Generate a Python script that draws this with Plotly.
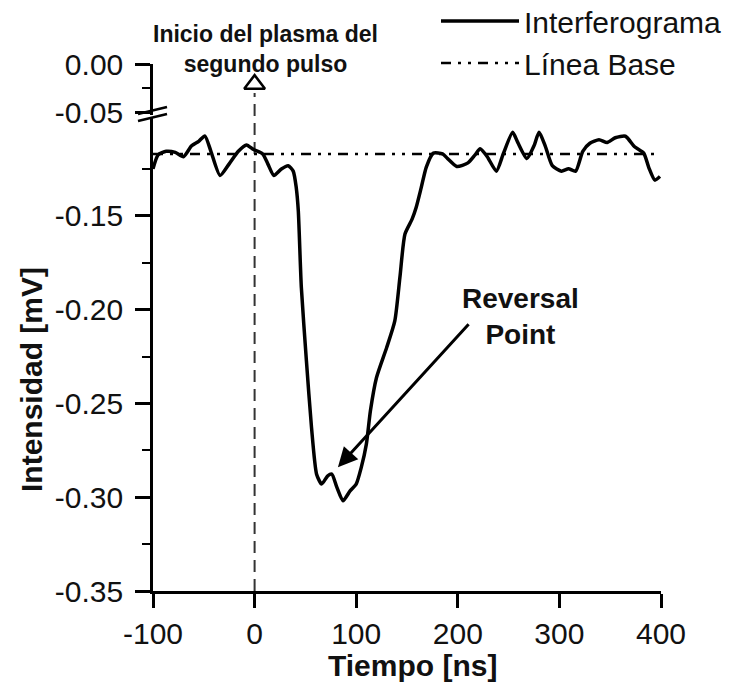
import plotly.graph_objects as go

# Interferogram trace (time in ns, intensity in mV)
tiempo = [-100, -95, -87, -78, -70, -62, -55, -49, -43, -34, -25, -16, -8, -1,
          8, 13, 19, 26, 33, 38, 41, 43, 46, 51, 56, 61, 66, 72, 76, 81, 87,
          94, 100, 105, 110, 114, 120, 130, 138, 143, 148, 155, 159, 164, 169,
          176, 185, 190, 199, 210, 217, 222, 229, 238, 245, 254, 259, 268, 275,
          280, 286, 293, 302, 309, 316, 323, 330, 339, 347, 355, 365, 374, 383,
          388, 394, 399]
intensidad = [-0.125, -0.1175, -0.1156, -0.1162, -0.1185, -0.1127, -0.1103,
              -0.1074, -0.1156, -0.1285, -0.1223, -0.1156, -0.1122, -0.1147,
              -0.117, -0.1223, -0.1285, -0.1252, -0.1233, -0.1262, -0.135,
              -0.1473, -0.1882, -0.2273, -0.2628, -0.2877, -0.293, -0.2886,
              -0.2877, -0.2948, -0.3019, -0.2966, -0.293, -0.2841, -0.2717,
              -0.2539, -0.2362, -0.2202, -0.206, -0.1829, -0.1597, -0.1518,
              -0.1456, -0.135, -0.124, -0.1166, -0.117, -0.1195, -0.1237,
              -0.1218, -0.1175, -0.1143, -0.1185, -0.1262, -0.1166, -0.1055,
              -0.1109, -0.1195, -0.1127, -0.1055, -0.1127, -0.1233, -0.1262,
              -0.1249, -0.1262, -0.1156, -0.1113, -0.1094, -0.1109, -0.1084,
              -0.1076, -0.1132, -0.1166, -0.1243, -0.131, -0.129]

# Baseline level
base_x = [-100, 400]
base_y = [-0.117, -0.117]

# Axis ticks
x_ticks = [-100, 0, 100, 200, 300, 400]
x_labels = ["-100", "0", "100", "200", "300", "400"]
y_ticks_low = [-0.35, -0.30, -0.25, -0.20, -0.15]
y_minor_low = [-0.325, -0.275, -0.225, -0.175, -0.125]
y_ticks_up = [0.0, -0.05]
y_minor_up = [-0.025]

# Second-pulse plasma onset marker
onset_x = [0]
onset_y = [-0.021]

FONT = "Liberation Sans, Arial, sans-serif"
INK = "#111111"

# pixel geometry of the plot area
W, H = 740, 684
L, R, T, B = 153, 79, 64, 93
PW, PH = W - L - R, H - T - B


def px_x(p):
    return (p - L) / PW


def px_y(p):
    return (H - B - p) / PH


fig = go.Figure()

fig.add_trace(go.Scatter(
    x=tiempo, y=intensidad, mode="lines", name="Interferograma",
    line=dict(color="black", width=3.5, shape="spline", smoothing=0.6),
    yaxis="y", cliponaxis=False))

fig.add_trace(go.Scatter(
    x=base_x, y=base_y, mode="lines", name="Línea Base",
    line=dict(color="black", width=2.5, dash="10px,7px,3px,7px,3px,7px"),
    yaxis="y"))

fig.add_trace(go.Scatter(
    x=onset_x, y=onset_y, mode="markers", showlegend=False,
    marker=dict(symbol="triangle-up-open", size=18, color="black",
                line=dict(color="black", width=2.5)),
    yaxis="y2", cliponaxis=False))

axis_common = dict(showgrid=False, zeroline=False, showline=True,
                   linecolor="black", linewidth=2.5, ticks="outside",
                   tickcolor="black", tickwidth=2.5,
                   tickfont=dict(family=FONT, size=30, color=INK))

lower_top = px_y(118)
upper_bot = px_y(115)

fig.update_layout(
    width=W, height=H, autosize=False,
    margin=dict(l=L, r=R, t=T, b=B, autoexpand=False),
    paper_bgcolor="white", plot_bgcolor="white",
    xaxis=dict(range=[-100, 400], tickvals=x_ticks, ticktext=x_labels,
               ticklen=14, anchor="y", **axis_common),
    yaxis=dict(range=[-0.35, -0.35 + (591 - 118) * 0.05 / 93.8],
               domain=[0, lower_top], tickvals=y_ticks_low,
               ticktext=[f"{v:.2f}" for v in y_ticks_low],
               ticklen=15, ticklabelstandoff=6,
               minor=dict(tickmode="array", tickvals=y_minor_low,
                          ticks="outside", ticklen=8, tickwidth=2,
                          tickcolor="black"),
               anchor="x", **axis_common),
    yaxis2=dict(range=[-0.0531, 0], domain=[upper_bot, 1],
                tickvals=y_ticks_up,
                ticktext=[f"{v:.2f}" for v in y_ticks_up],
                ticklen=15, ticklabelstandoff=6,
                minor=dict(tickmode="array", tickvals=y_minor_up,
                           ticks="outside", ticklen=8, tickwidth=2,
                           tickcolor="black"),
                anchor="x", **axis_common),
    legend=dict(x=px_x(436), y=px_y(-5), xanchor="left", yanchor="top",
                font=dict(family=FONT, size=30, color=INK),
                itemwidth=78, bgcolor="rgba(0,0,0,0)", tracegroupgap=0),
    showlegend=True,
)

# vertical dashed line at the plasma onset
fig.add_shape(type="line", xref="x", yref="paper", x0=0, x1=0,
              y0=0, y1=px_y(93), layer="below",
              line=dict(color="#333333", width=2, dash="12px,7px"))

# axis break slashes
for dy in (0, 7):
    fig.add_shape(type="line", xref="paper", yref="paper",
                  x0=px_x(138), x1=px_x(167),
                  y0=px_y(114 + dy), y1=px_y(107 + dy),
                  line=dict(color="black", width=2.5))

# axis titles
fig.add_annotation(text="<b>Tiempo [ns]</b>", xref="paper", yref="paper",
                   x=px_x(412), y=px_y(665), showarrow=False,
                   xanchor="center", yanchor="middle",
                   font=dict(family=FONT, size=30, color=INK))
fig.add_annotation(text="<b>Intensidad [mV]</b>", xref="paper", yref="paper",
                   x=px_x(31), y=px_y(380), showarrow=False, textangle=-90,
                   xanchor="center", yanchor="middle",
                   font=dict(family=FONT, size=30, color=INK))

# onset label
fig.add_annotation(text="<b>Inicio del plasma del<br>segundo pulso</b>",
                   xref="paper", yref="paper", x=px_x(265), y=px_y(49),
                   showarrow=False, xanchor="center", yanchor="middle",
                   font=dict(family=FONT, size=23, color=INK))

# reversal point label and arrow
fig.add_annotation(text="<b>Reversal<br>Point</b>", xref="paper", yref="paper",
                   x=px_x(520), y=px_y(316), showarrow=False,
                   xanchor="center", yanchor="middle",
                   font=dict(family=FONT, size=28, color=INK))
fig.add_annotation(text="", x=82, y=-0.284, xref="x", yref="y",
                   ax=212, ay=-0.207, axref="x", ayref="y",
                   showarrow=True, arrowhead=2, arrowsize=1.3,
                   arrowwidth=3, arrowcolor="black")

fig.write_html("out.html")
